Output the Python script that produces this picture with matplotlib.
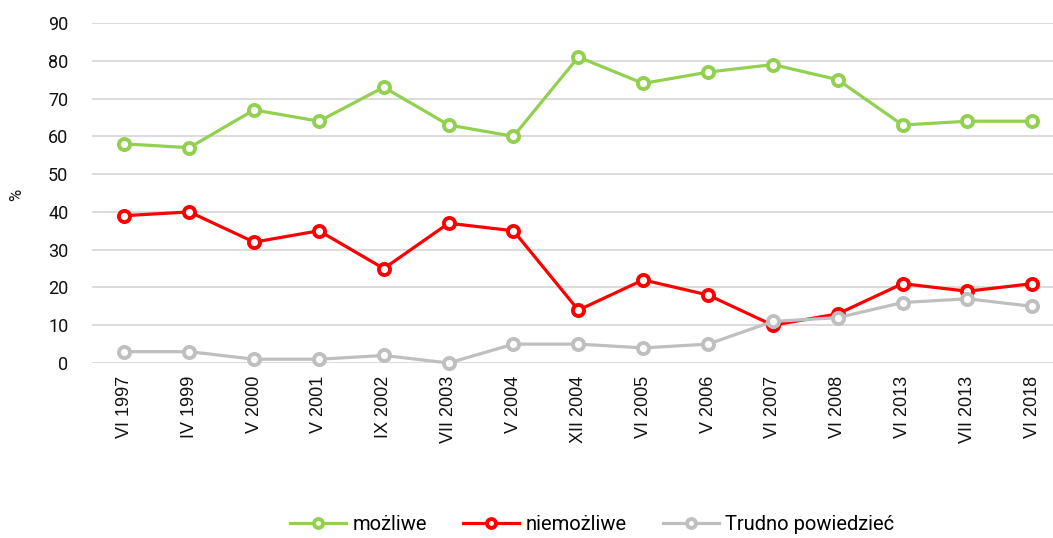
import numpy as np
import matplotlib
matplotlib.use("Agg")
import matplotlib.pyplot as plt

plt.rcParams["font.family"] = ["Roboto", "DejaVu Sans"]

# ---- data ----
labels = ["VI 1997", "IV 1999", "V 2000", "V 2001", "IX 2002", "VII 2003", "V 2004",
          "XII 2004", "VI 2005", "V 2006", "VI 2007", "VI 2008", "VI 2013",
          "VII 2013", "VI 2018"]
mozliwe = [58, 57, 67, 64, 73, 63, 60, 81, 74, 77, 79, 75, 63, 64, 64]
niemozliwe = [39, 40, 32, 35, 25, 37, 35, 14, 22, 18, 10, 13, 21, 19, 21]
trudno = [3, 3, 1, 1, 2, 0, 5, 5, 4, 5, 11, 12, 16, 17, 15]

series = [
    ("możliwe", mozliwe, "#92d050"),
    ("niemożliwe", niemozliwe, "#ff0000"),
    ("Trudno powiedzieć", trudno, "#bfbfbf"),
]

W, H = 1053, 538
fig = plt.figure(figsize=(W / 100, H / 100), dpi=100)
ax = fig.add_axes([92 / W, 1 - 363 / H, (W - 92) / W, (363 - 23) / H])

x = np.arange(len(labels))
handles = []
for name, vals, col in series:
    h, = ax.plot(x, vals, color=col, lw=2.3, marker="o", markersize=8,
                 markerfacecolor="white", markeredgecolor=col, markeredgewidth=2.8,
                 label=name, clip_on=False, zorder=3)
    handles.append(h)

ax.set_ylim(0, 90)
ax.set_yticks(range(0, 91, 10))
ax.set_xlim(-0.5, 14.32)
ax.set_xticks(x)
ax.set_xticklabels(labels, rotation=90, fontsize=13, color="#111111",
                   family=["Liberation Sans", "DejaVu Sans"])
ax.tick_params(axis="y", labelsize=13, colors="#111111", length=0, pad=17)
ax.tick_params(axis="x", length=0, pad=9)
ax.grid(axis="y", color="#d9d9d9", lw=1.3)
ax.set_axisbelow(True)
for s in ax.spines.values():
    s.set_visible(False)

fig.text(17 / W, 1 - 195 / H, "%", rotation=90, fontsize=12,
         ha="center", va="center", color="#111111")

leg = fig.legend(handles=handles, loc="center", bbox_to_anchor=(592 / W, 1 - 525 / H),
                 ncol=3, frameon=False, fontsize=14.5, handlelength=2.8,
                 columnspacing=1.8, handletextpad=0.3, markerscale=0.8)

fig.savefig("out.png", dpi=100)
